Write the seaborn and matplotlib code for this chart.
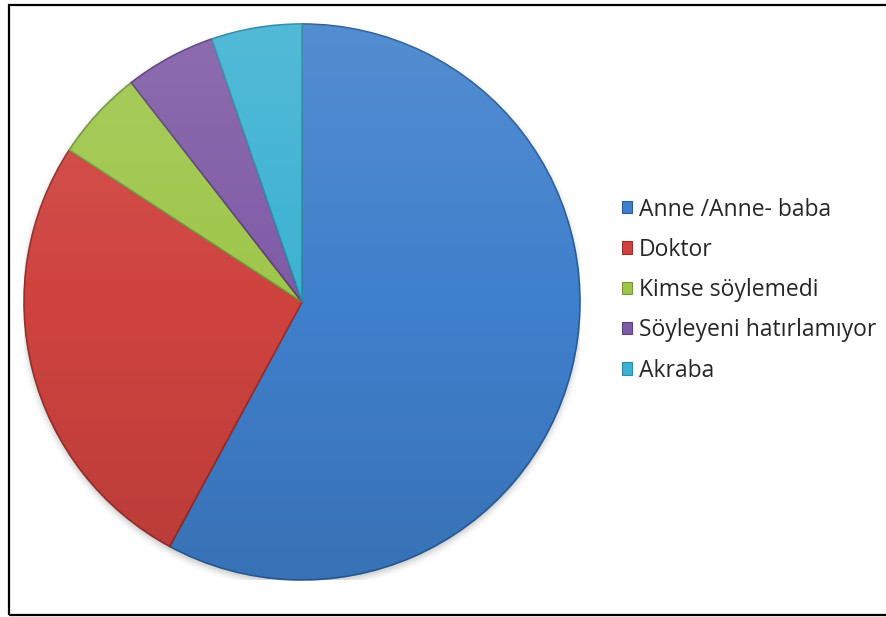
import numpy as np
import matplotlib
matplotlib.use("Agg")
import matplotlib.pyplot as plt
from matplotlib.patches import Rectangle, Circle
import seaborn as sns

categories = ["Anne /Anne- baba", "Doktor", "Kimse söylemedi",
              "Söyleyeni hatırlamıyor", "Akraba"]
counts = [11, 5, 1, 1, 1]
colors = ["#3F80CC", "#CF433F", "#9FC64B", "#7F5BA6", "#3CB2D2"]
edge_colors = ["#2B5C98", "#9A2E2B", "#74963A", "#5C417E", "#2A8AA6"]

sns.set_theme(style="white")
plt.rcParams["font.family"] = ["Open Sans", "DejaVu Sans"]

W, H = 887, 617
fig = plt.figure(figsize=(W / 100, H / 100), dpi=100)
fig.patch.set_facecolor("white")

# outer frame
frame = Rectangle((9.5 / W, 2.5 / H), 1.2, (614 - 2.5 - 2) / H,
                  transform=fig.transFigure, fill=False,
                  edgecolor="black", linewidth=1.6)
fig.add_artist(frame)

cx, cy, r = 302, 302, 278
ax = fig.add_axes([(cx - r) / W, (H - cy - r) / H, 2 * r / W, 2 * r / H])

# soft drop shadow under the pie
for k, a in enumerate(np.linspace(0.05, 0.01, 5)):
    ax.add_patch(Circle((0.0, -0.012), 1.0 + 0.006 * k, color="black",
                        alpha=a, zorder=0, linewidth=0))

wedges, _ = ax.pie(counts, colors=colors, startangle=90, counterclock=False,
                   radius=1.0,
                   wedgeprops=dict(linewidth=1.2, zorder=1))
for w, ec in zip(wedges, edge_colors):
    w.set_edgecolor(ec)

# vertical light-to-dark shading over each slice
grad = np.linspace(0, 1, 256)[:, None]
shade = np.zeros((256, 1, 4))
shade[..., :3] = np.where(grad[..., None] < 0.5, 1.0, 0.0)
shade[..., 3] = np.abs(grad - 0.5) * 0.22
for w in wedges:
    im = ax.imshow(shade, extent=(-1, 1, -1, 1), origin="upper",
                   aspect="auto", zorder=2, interpolation="bilinear")
    im.set_clip_path(w)

ax.set_xlim(-1, 1)
ax.set_ylim(-1, 1)
ax.set_aspect("equal")
ax.axis("off")

# legend
handles = [Rectangle((0, 0), 1, 1, facecolor=c, edgecolor=e, linewidth=0.8)
           for c, e in zip(colors, edge_colors)]
leg = fig.legend(handles, categories, loc="upper left",
                 bbox_to_anchor=(622 / W, 1 - 197.5 / H),
                 frameon=False, fontsize=16.5, handlelength=0.45,
                 handleheight=0.45, handletextpad=0.3, labelspacing=0.71,
                 borderaxespad=0, borderpad=0)

fig.savefig("out.png", dpi=100, facecolor="white")
